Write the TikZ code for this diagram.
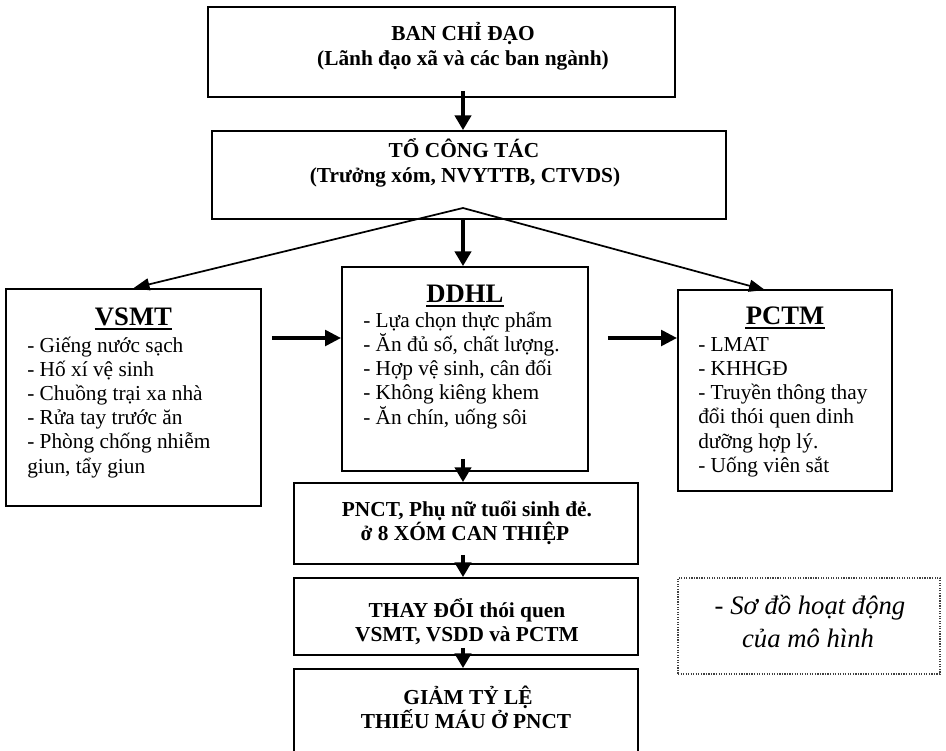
\documentclass[tikz,border=0pt]{standalone}
\usepackage{fontspec}
\setmainfont{Liberation Serif}
\usetikzlibrary{arrows.meta,fit,calc}
\begin{document}
\begin{tikzpicture}[x=0.75pt,y=-0.75pt,
  box/.style={draw, line width=1.3pt, inner sep=0pt},
  notebox/.style={draw=black!75, densely dotted, line width=0.9pt, inner sep=0pt},
  ttl/.style={font=\fontsize{16}{19}\selectfont\bfseries, anchor=base, inner sep=0pt},
  head/.style={font=\fontsize{20}{24}\selectfont\bfseries, anchor=base, inner sep=0pt},
  item/.style={font=\fontsize{16}{19}\selectfont, anchor=base west, inner sep=0pt},
  notetxt/.style={font=\fontsize{20}{24}\selectfont\itshape, anchor=base, inner sep=0pt},
  uline/.style={line width=1.5pt},
  varrow/.style={line width=2.9pt, -{Triangle[length=11pt,width=12pt]}},
  harrow/.style={line width=3.4pt, -{Triangle[length=12pt,width=11.5pt]}},
  darrow/.style={line width=1.3pt, -{Triangle[length=12pt,width=9pt]}}
]
\useasboundingbox (0,0) rectangle (946,750);

% box corners
\coordinate (b1a) at (208,7);   \coordinate (b1b) at (675,97);
\coordinate (b2a) at (212,131); \coordinate (b2b) at (726,219);
\coordinate (vsa) at (6,289);   \coordinate (vsb) at (261,506);
\coordinate (dda) at (342,267); \coordinate (ddb) at (588,471);
\coordinate (pca) at (678,290); \coordinate (pcb) at (892,491);
\coordinate (b4a) at (294,483); \coordinate (b4b) at (638,564);
\coordinate (b5a) at (294,578); \coordinate (b5b) at (638,655);
\coordinate (b6a) at (294,669); \coordinate (b6b) at (638,770);
\coordinate (nta) at (678,578); \coordinate (ntb) at (940,674);

\node[box, fit=(b1a)(b1b)] (b1) {};
\node[box, fit=(b2a)(b2b)] (b2) {};
\node[box, fit=(vsa)(vsb)] (vsmt) {};
\node[box, fit=(dda)(ddb)] (ddhl) {};
\node[box, fit=(pca)(pcb)] (pctm) {};
\node[box, fit=(b4a)(b4b)] (b4) {};
\node[box, fit=(b5a)(b5b)] (b5) {};
\node[box, fit=(b6a)(b6b)] (b6) {};
\node[notebox, fit=(nta)(ntb)] (note) {};

% texts
\node[ttl] (t1a) at (463,40) {BAN CHỈ ĐẠO};
\node[ttl] (t1b) at (463,65) {(Lãnh đạo xã và các ban ngành)};
\node[ttl] (t2a) at (464,157) {TỔ CÔNG TÁC};
\node[ttl] (t2b) at (465,182) {(Trưởng xóm, NVYTTB, CTVDS)};

\node[head] (hv) at (133.5,325) {VSMT};
\draw[uline] ($(hv.base west)+(0,3.5)$) -- ($(hv.base east)+(0,3.5)$);
\foreach \t [count=\i] in {- Giếng nước sạch, - Hố xí vệ sinh, - Chuồng trại xa nhà, - Rửa tay trước ăn, - Phòng chống nhiễm, {giun, tẩy giun}}
  \node[item] (v\i) at (27,{352+(\i-1)*24.2}) {\t};

\node[head] (hd) at (465,302) {DDHL};
\draw[uline] ($(hd.base west)+(0,3.5)$) -- ($(hd.base east)+(0,3.5)$);
\foreach \t [count=\i] in {- Lựa chọn thực phẩm, {- Ăn đủ số, chất lượng.}, {- Hợp vệ sinh, cân đối}, - Không kiêng khem, {- Ăn chín, uống sôi}}
  \node[item] (d\i) at (363,{327+(\i-1)*24.3}) {\t};

\node[head] (hp) at (785,324) {PCTM};
\draw[uline] ($(hp.base west)+(0,3.5)$) -- ($(hp.base east)+(0,3.5)$);
\foreach \t [count=\i] in {- LMAT, - KHHGĐ, - Truyền thông thay, đổi thói quen dinh, dưỡng hợp lý., - Uống viên sắt}
  \node[item] (p\i) at (698,{351+(\i-1)*24.3}) {\t};

\node[ttl] (t4a) at (467,516) {PNCT, Phụ nữ tuổi sinh đẻ.};
\node[ttl] (t4b) at (465,540) {ở 8 XÓM CAN THIỆP};
\node[ttl] (t5a) at (467,617) {THAY ĐỔI thói quen};
\node[ttl] (t5b) at (467,641) {VSMT, VSDD và PCTM};
\node[ttl] (t6a) at (468,704) {GIẢM TỶ LỆ};
\node[ttl] (t6b) at (466,728) {THIẾU MÁU Ở PNCT};

\node[notetxt] (n1) at (810,614) {- Sơ đồ hoạt động};
\node[notetxt] (n2) at (808,647) {của mô hình};

% connectors
\coordinate (apex) at (463,208);
\coordinate (pin) at (765,290);
\coordinate (hrow) at (0,338);

\draw[varrow] ($(b1.south -| apex)+(0,-7)$) -- (b2.north -| apex);
\draw[darrow] (apex) -- (vsmt.north);
\draw[darrow] (apex) -- (pin);
\draw[varrow] (b2.south -| apex) -- (ddhl.north -| apex);
\draw[harrow] ($(vsmt.east |- hrow)+(10,0)$) -- (ddhl.west |- hrow);
\draw[harrow] ($(ddhl.east |- hrow)+(19,0)$) -- (pctm.west |- hrow);
\draw[varrow] ($(ddhl.south -| apex)+(0,-13)$) -- (b4.north -| apex);
\draw[varrow] ($(b4.south -| apex)+(0,-10)$) -- (b5.north -| apex);
\draw[varrow] ($(b5.south -| apex)+(0,-8)$) -- (b6.north -| apex);
\end{tikzpicture}
\end{document}
